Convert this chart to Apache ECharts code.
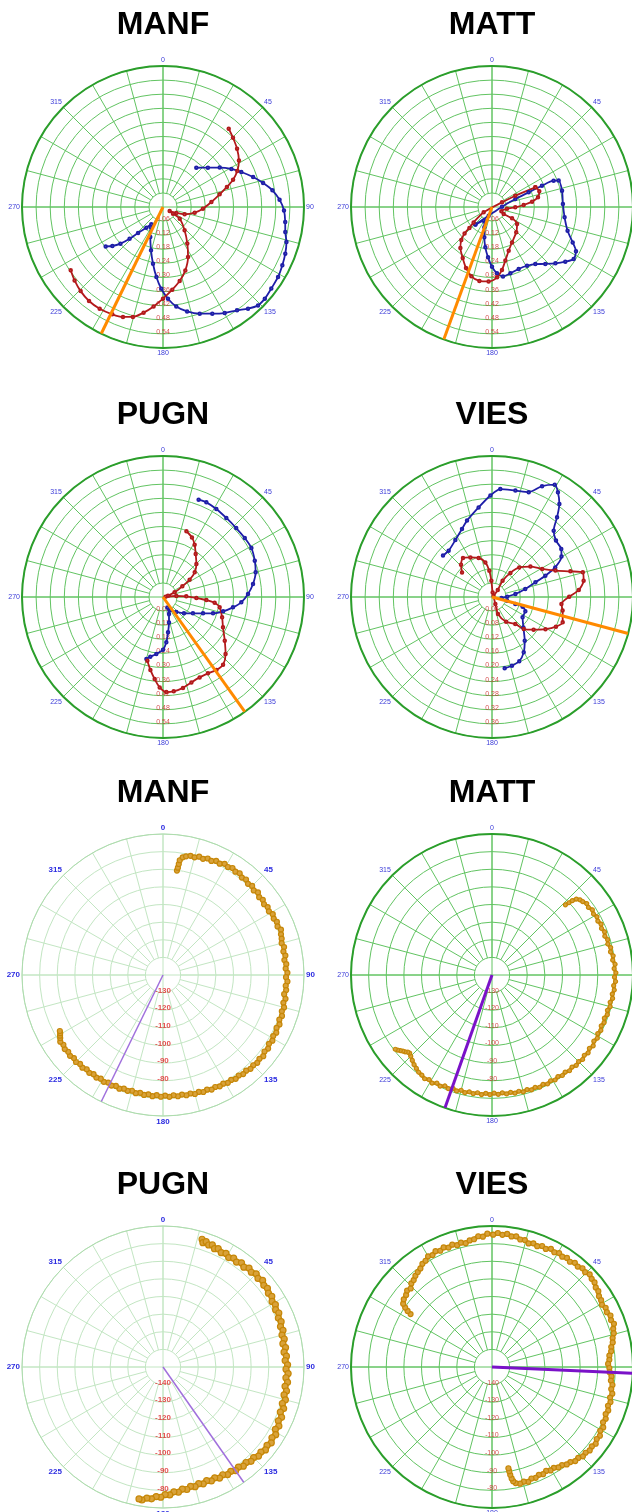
<!DOCTYPE html>
<html>
<head>
<meta charset="utf-8">
<script src="https://cdn.jsdelivr.net/npm/echarts@6/dist/echarts.min.js"></script>
<style>
  html, body { margin: 0; padding: 0; background: #fff; }
  #chart { width: 632px; height: 1512px; }
</style>
</head>
<body>
<div id="chart"></div>
<script>
// ---------- data ----------
// Station names, one per panel (top two rows: amplitude traces, bottom two rows: level scans)
const stationNames = ['MANF', 'MATT', 'PUGN', 'VIES', 'MANF', 'MATT', 'PUGN', 'VIES'];

// Compass tick labels (degrees)
const angleTicks = [0, 45, 90, 135, 180, 225, 270, 315];

// Radial tick labels for each panel
const radialLabelsManf = [0.06, 0.12, 0.18, 0.24, 0.30, 0.36, 0.42, 0.48, 0.54];
const radialLabelsMatt = [0.06, 0.12, 0.18, 0.24, 0.30, 0.36, 0.42, 0.48, 0.54];
const radialLabelsPugn = [0.06, 0.12, 0.18, 0.24, 0.30, 0.36, 0.42, 0.48, 0.54];
const radialLabelsVies = [0.04, 0.08, 0.12, 0.16, 0.20, 0.24, 0.28, 0.32, 0.36];
const levelLabelsManf = [-130, -120, -110, -100, -90, -80];
const levelLabelsMatt = [-130, -120, -110, -100, -90, -80];
const levelLabelsPugn = [-140, -130, -120, -110, -100, -90, -80];
const levelLabelsVies = [-140, -130, -120, -110, -100, -90, -80];

// Bearing indicators (degrees from north, clockwise)
const traceBearings = [206, 200, 144.5, 105];
const scanBearings = [206, 199.5, 145, 92.6];

// Amplitude traces, points are [amplitude, bearing]
const manfRed = [[0.435,40.0],[0.419,45.3],[0.401,51.8],[0.379,58.5],[0.351,64.2],[0.320,68.7],[0.285,72.6],[0.247,77.4],[0.207,84.1],[0.170,92.4],[0.137,100.1],[0.097,108.7],[0.062,114.2],[0.033,121.0],[0.051,123.7],[0.087,125.0],[0.135,137.1],[0.187,146.4],[0.238,153.4],[0.286,160.6],[0.323,167.3],[0.354,173.6],[0.390,180.0],[0.425,185.4],[0.457,190.4],[0.485,195.3],[0.498,200.0],[0.505,205.3],[0.510,211.9],[0.509,218.2],[0.501,224.4],[0.489,230.3],[0.476,235.6]];
const manfBlue = [[0.219,40.3],[0.254,48.8],[0.294,55.2],[0.333,60.9],[0.365,65.9],[0.404,71.6],[0.438,76.5],[0.471,81.3],[0.497,86.4],[0.515,91.6],[0.524,97.0],[0.531,101.5],[0.546,105.8],[0.557,110.9],[0.565,116.0],[0.573,121.3],[0.577,127.0],[0.583,132.0],[0.582,136.0],[0.564,140.1],[0.541,144.4],[0.522,149.8],[0.500,155.2],[0.480,161.0],[0.456,167.0],[0.427,172.4],[0.391,176.9],[0.348,181.2],[0.299,185.4],[0.245,190.0],[0.191,195.5],[0.139,202.9],[0.100,211.7],[0.089,214.0],[0.113,218.9],[0.153,223.9],[0.196,226.5],[0.239,229.3],[0.272,232.4],[0.296,235.5]];
const mattRed = [[0.2025,65.6],[0.110,64.1],[0.047,65.0],[0.042,237.4],[0.102,230.1],[0.131,227.2],[0.162,226.1],[0.192,222.9],[0.220,217.7],[0.250,209.9],[0.282,203.1],[0.308,196.6],[0.319,189.7],[0.317,182.6],[0.300,175.9],[0.271,171.0],[0.235,166.0],[0.199,159.1],[0.173,150.5],[0.149,136.2],[0.129,124.2],[0.098,119.5],[0.058,121.0],[0.044,114.9],[0.064,96.3],[0.099,90.8],[0.135,86.4],[0.172,82.4],[0.200,78.1],[0.212,71.7],[0.2025,65.6]];
const mattBlue = [[0.103,223.3],[0.0395,201],[0.0426,88.1],[0.105,71.1],[0.168,68.2],[0.231,66.9],[0.285,66.9],[0.305,68.4],[0.306,76.9],[0.302,87.6],[0.312,98.1],[0.337,107.4],[0.375,113.7],[0.404,117.8],[0.412,122.5],[0.389,126.7],[0.361,131.6],[0.332,136.9],[0.305,142.8],[0.291,149.2],[0.287,156.7],[0.293,164.5],[0.299,171.0],[0.283,175.7],[0.254,180],[0.215,184.5],[0.174,189.4],[0.133,194.2],[0.0925,200.7],[0.068,211.4],[0.103,223.3]];
const pugnRed = [[0.297,19.6],[0.282,25.9],[0.260,31.2],[0.230,37.2],[0.200,45.3],[0.171,52.1],[0.135,57.0],[0.094,61.1],[0.053,68.2],[0.022,75],[0.011,83],[0.057,85.7],[0.099,88.4],[0.142,91.7],[0.185,94.0],[0.221,96.3],[0.245,100.3],[0.266,109.0],[0.286,116.8],[0.322,125.3],[0.360,132.3],[0.385,138.4],[0.385,143.8],[0.377,149.5],[0.376,155.5],[0.383,161.6],[0.396,167.6],[0.404,173.5],[0.405,178.0],[0.385,182.1],[0.351,185.8],[0.315,189.8],[0.279,193.8]];
const pugnBlue = [[0.441,20.1],[0.443,24.6],[0.438,31.2],[0.431,38.7],[0.428,46.7],[0.429,54.2],[0.430,61.0],[0.420,68.4],[0.408,75.1],[0.387,81.8],[0.362,88.0],[0.334,93.9],[0.301,98.4],[0.263,103.4],[0.224,108.1],[0.184,112.2],[0.145,118.6],[0.113,127.9],[0.085,138.4],[0.064,149.5],[0.048,157.2],[0.077,160.6],[0.111,166.7],[0.152,171.9],[0.193,175.8],[0.224,180],[0.244,186.7],[0.260,192.0],[0.273,195.0]];
const viesRed = [[0.110,309.4],[0.127,316.2],[0.138,323.4],[0.128,331.4],[0.117,341.1],[0.100,349.1],[0.075,354.2],[0.046,357.7],[0.013,8.1],[0.022,154.5],[0.051,160.6],[0.081,150.4],[0.101,139.2],[0.128,135.3],[0.150,128.1],[0.177,121.0],[0.200,114.9],[0.213,109.7],[0.204,100.9],[0.198,95.8],[0.219,89.8],[0.247,85.4],[0.264,79.9],[0.267,74.8],[0.234,71.9],[0.195,67.4],[0.163,60.8],[0.139,51.6],[0.114,42.7],[0.086,37.4],[0.055,33.1],[0.026,39.0],[0.005,60]];
const viesBlue = [[0.182,310.2],[0.180,316.9],[0.192,327.2],[0.211,336.2],[0.228,341.9],[0.257,351.5],[0.288,359.1],[0.307,4.4],[0.309,12.4],[0.315,19.3],[0.345,24.3],[0.365,29.2],[0.351,32.2],[0.326,35.9],[0.292,39.2],[0.257,42.9],[0.242,48.6],[0.239,55.3],[0.228,59.8],[0.198,64.9],[0.163,68.2],[0.130,71.3],[0.097,76.5],[0.067,82.7],[0.043,88.7],[0.027,96.1],[0.044,103.7],[0.069,106.7],[0.091,107.5],[0.103,113.3],[0.104,123.5],[0.124,134.1],[0.155,143.2],[0.181,150.2],[0.198,157.0],[0.203,163.8],[0.205,169.9]];

// Level scans, points are [bearing, level]
const manfScan = [[7.6,-80.2],[7.9,-78.5],[8.1,-76.4],[8.3,-74.2],[9.5,-72.3],[11,-71.4],[13,-70.6],[15,-70.9],[17,-69.8],[19,-70.3],[21,-69.2],[23,-69.7],[25,-68.6],[27,-69.1],[29,-67.9],[31,-68.5],[33,-67.6],[35,-68.4],[37,-67.7],[39,-68.9],[41,-68.2],[43,-69.3],[45,-68.5],[47,-69.6],[49,-68.6],[51,-69.8],[53,-69.1],[55,-70.0],[57,-69.2],[59,-69.9],[61,-68.8],[63,-69.5],[65,-68.7],[67,-69.4],[69,-68.3],[71,-69.2],[73,-69.6],[75,-70.3],[77,-69.5],[79,-70.4],[81,-69.7],[83,-70.6],[85,-69.8],[87,-70.3],[89,-69.4],[91,-70.2],[93,-69.3],[95,-70.1],[97,-69.6],[99,-70.4],[101,-69.2],[103,-69.9],[105,-68.9],[107,-69.5],[109,-68.6],[111,-69.3],[113,-68.2],[115,-68.9],[117,-67.9],[119,-68.5],[121,-67.6],[123,-68.3],[125,-67.2],[127,-67.9],[129,-66.8],[131,-67.5],[133,-66.9],[135,-67.6],[137,-67.2],[139,-68.1],[141,-67.7],[143,-68.6],[145,-68.1],[147,-69.0],[149,-68.6],[151,-69.5],[153,-69.1],[155,-69.9],[157,-69.4],[159,-70.3],[161,-69.8],[163,-70.6],[165,-70.1],[167,-71.0],[169,-70.5],[171,-71.3],[173,-70.7],[175,-71.5],[177,-70.8],[179,-71.6],[181,-70.9],[183,-71.7],[185,-71.0],[187,-71.8],[189,-71.1],[191,-71.9],[193,-71.2],[195,-72.0],[197,-71.3],[199,-71.8],[201,-70.9],[203,-71.6],[205,-70.8],[207,-71.5],[209,-70.7],[211,-71.4],[213,-70.6],[215,-71.3],[217,-70.5],[219,-71.2],[221,-70.3],[223,-71.0],[225,-70.2],[227,-70.9],[229,-70.1],[231,-70.8],[233,-70.2],[235,-71.0],[237,-70.5],[238.5,-71.6],[239.5,-72.2],[240.5,-73.0],[241.5,-73.4]];
const mattScan = [[46.3,-82.4],[46.8,-80.1],[47.2,-77.9],[48.0,-75.6],[49.5,-74.3],[51,-73.8],[53,-72.7],[55,-73.2],[57,-72.1],[59,-72.8],[61,-71.9],[63,-72.6],[65,-71.7],[67,-72.5],[69,-71.6],[71,-72.3],[73,-71.4],[75,-72.0],[77,-70.9],[79,-71.5],[81,-70.4],[83,-71.0],[85,-69.9],[87,-70.6],[89,-69.7],[91,-70.5],[93,-69.8],[95,-70.7],[97,-70.1],[99,-70.9],[101,-70.3],[103,-71.2],[105,-70.6],[107,-71.5],[109,-70.8],[111,-71.7],[113,-70.9],[115,-71.6],[117,-70.7],[119,-71.4],[121,-70.3],[123,-71.1],[125,-69.9],[127,-70.8],[129,-69.8],[131,-70.6],[133,-69.7],[135,-70.5],[137,-69.9],[139,-70.8],[141,-70.1],[143,-71.0],[145,-70.4],[147,-71.3],[149,-70.5],[151,-71.4],[153,-70.6],[155,-71.5],[157,-70.8],[159,-71.7],[161,-71.1],[163,-72.0],[165,-71.4],[167,-72.3],[169,-71.7],[171,-72.6],[173,-72.0],[175,-72.9],[177,-72.2],[179,-73.0],[181,-72.1],[183,-72.8],[185,-71.9],[187,-72.7],[189,-71.8],[191,-72.5],[193,-71.5],[195,-72.3],[197,-71.2],[199,-72.0],[201,-70.9],[203,-71.6],[205,-70.4],[207,-71.1],[209,-69.9],[211,-70.7],[213,-69.8],[215,-70.6],[217,-70.9],[219,-71.8],[221,-72.6],[223,-73.7],[225,-74.8],[226.5,-75.6],[227.5,-75.2],[228.5,-74.2],[229.5,-73.5],[230.5,-72.6],[231.5,-71.6],[232.5,-70.8]];
const pugnScan = [[17.0,-74.2],[17.8,-75.9],[19,-74.8],[20.5,-76.1],[22,-75.3],[23.5,-76.8],[25,-75.9],[27,-77.2],[29,-76.3],[31,-77.6],[33,-76.4],[35,-77.3],[37,-76.0],[39,-77.1],[41,-75.6],[43,-76.5],[45,-75.2],[47,-76.3],[49,-75.1],[51,-76.4],[53,-75.8],[55,-77.0],[57,-76.4],[59,-77.8],[61,-77.1],[63,-78.3],[65,-77.5],[67,-78.9],[69,-78.2],[71,-79.5],[73,-78.8],[75,-80.1],[77,-79.4],[79,-80.7],[81,-79.6],[83,-80.8],[85,-79.7],[87,-80.6],[89,-79.3],[91,-80.2],[93,-78.9],[95,-80.0],[97,-78.8],[99,-79.9],[101,-78.6],[103,-79.5],[105,-78.1],[107,-79.2],[109,-77.6],[111,-78.7],[113,-76.9],[115,-77.8],[117,-76.2],[119,-77.1],[121,-75.4],[123,-76.3],[125,-75.0],[127,-76.1],[129,-75.2],[131,-76.4],[133,-75.9],[135,-77.3],[137,-76.8],[139,-78.2],[141,-77.6],[143,-78.9],[145,-78.2],[147,-79.4],[149,-78.8],[151,-80.1],[153,-79.3],[155,-80.6],[157,-79.8],[159,-80.9],[161,-79.9],[163,-80.8],[165,-79.7],[167,-80.5],[169,-79.2],[171,-79.9],[173,-78.4],[175,-78.9],[177,-77.3],[179,-77.6],[181,-76.1],[183,-76.4],[185,-74.9],[187,-75.1],[189,-73.6],[190.3,-73.9]];
const viesScan = [[303.0,-94.9],[303.6,-92.5],[304.4,-90.3],[305.5,-88.1],[307.5,-86.9],[310,-86.4],[312,-85.2],[314,-85.9],[316,-84.1],[318,-83.6],[320,-82.4],[322,-81.6],[324,-80.9],[326,-79.4],[328,-78.9],[330,-77.5],[332,-78.1],[334,-76.9],[336,-77.8],[338,-76.8],[340,-77.9],[342,-77.0],[344,-78.1],[346,-77.3],[348,-78.2],[350,-77.1],[352,-76.8],[354,-75.4],[356,-75.9],[358,-74.3],[0.5,-74.9],[2.5,-73.9],[4.5,-74.8],[6.5,-74.0],[8.5,-75.1],[10.5,-74.6],[12.5,-75.9],[14.5,-75.6],[16.5,-76.9],[18.5,-76.0],[20.5,-76.8],[22.5,-75.7],[24.5,-76.4],[26.5,-75.1],[28.5,-75.9],[30.5,-75.0],[32.5,-75.8],[34.5,-74.9],[36.5,-75.7],[38.5,-74.5],[40.5,-75.1],[42.5,-74.0],[44.5,-74.6],[46.5,-73.6],[48.5,-74.5],[50.5,-74.6],[52.5,-75.8],[54.5,-75.9],[56.5,-77.2],[58.5,-77.4],[60.5,-78.3],[62.5,-77.3],[64.5,-77.8],[66.5,-76.7],[68.5,-77.4],[70.5,-76.6],[72.5,-77.9],[74.5,-78.3],[76.5,-79.6],[78.5,-80.1],[80.5,-81.4],[82.5,-81.8],[84.5,-83.1],[86.5,-83.3],[88.5,-84.1],[90.5,-83.4],[92.5,-83.2],[94.5,-82.0],[96.5,-82.1],[98.5,-80.9],[100.5,-81.2],[102.5,-80.1],[104.5,-80.8],[106.5,-79.9],[108.5,-80.6],[110.5,-79.6],[112.5,-80.2],[114.5,-79.1],[116.5,-79.6],[118.5,-78.2],[120.5,-78.7],[122.5,-77.4],[124.5,-77.9],[126.5,-76.8],[128.5,-77.6],[130.5,-77.1],[132.5,-78.0],[134.5,-77.7],[136.5,-78.9],[138.5,-78.7],[140.5,-80.1],[142.5,-80.3],[144.5,-81.6],[146.5,-81.7],[148.5,-82.9],[150.5,-82.6],[152.5,-83.5],[154.5,-82.6],[156.5,-83.3],[158.5,-82.4],[160.5,-82.9],[162.5,-81.7],[164.5,-82.5],[166.5,-81.9],[168.5,-82.8],[169.5,-84.1],[170.0,-85.8],[170.4,-88.0],[170.6,-90.1],[170.8,-91.8]];

// ---------- styles ----------
const RED = '#b3191b', BLUE = '#1e1ea8', ORANGE = '#ff8a00', GOLD = '#c68708', GOLD_LIGHT = '#d9a23a';
const gridDark = { grid: '#62c462', outer: '#2b9e2b', outerWidth: 2 };
const gridLight = { grid: '#c3e6c3', outer: '#aedcae', outerWidth: 1 };
const labelsPlain = { angleColor: '#3a3ad8', radialColor: '#cc2424', size: 7, weight: 'normal' };
const labelsBold = { angleColor: '#2b2be0', radialColor: '#e02828', size: 8, weight: 'bold' };
const FONT = '"Liberation Sans", Arial, sans-serif';

const R = 141;
const colX = [163, 492];
const rowY = [207, 597, 975, 1367];

const panels = [
  { col: 0, row: 0, min: 0, max: 0.6, step: 0.06, grid: gridDark, lab: labelsPlain, ticks: radialLabelsManf, fmt: v => v.toFixed(2),
    traces: [manfBlue, manfRed], bearing: traceBearings[0], bearingColor: ORANGE, bearingWidth: 3 },
  { col: 1, row: 0, min: 0, max: 0.6, step: 0.06, grid: gridDark, lab: labelsPlain, ticks: radialLabelsMatt, fmt: v => v.toFixed(2),
    traces: [mattBlue, mattRed], bearing: traceBearings[1], bearingColor: ORANGE, bearingWidth: 3 },
  { col: 0, row: 1, min: 0, max: 0.6, step: 0.06, grid: gridDark, lab: labelsPlain, ticks: radialLabelsPugn, fmt: v => v.toFixed(2),
    traces: [pugnBlue, pugnRed], bearing: traceBearings[2], bearingColor: ORANGE, bearingWidth: 3 },
  { col: 1, row: 1, min: 0, max: 0.4, step: 0.04, grid: gridDark, lab: labelsPlain, ticks: radialLabelsVies, fmt: v => v.toFixed(2),
    traces: [viesBlue, viesRed], bearing: traceBearings[3], bearingColor: ORANGE, bearingWidth: 3 },
  { col: 0, row: 2, min: -140, max: -60, step: 10, grid: gridLight, lab: labelsBold, ticks: levelLabelsManf, fmt: v => String(v),
    scan: manfScan, scanSize: 5, scanWidth: 4, bearing: scanBearings[0], bearingColor: '#a070dc', bearingWidth: 1.5 },
  { col: 1, row: 2, min: -140, max: -60, step: 10, grid: gridDark, lab: labelsPlain, ticks: levelLabelsMatt, fmt: v => String(v),
    scan: mattScan, scanSize: 4, scanWidth: 3.5, bearing: scanBearings[1], bearingColor: '#7a12c8', bearingWidth: 3 },
  { col: 0, row: 3, min: -150, max: -70, step: 10, grid: gridLight, lab: labelsBold, ticks: levelLabelsPugn, fmt: v => String(v),
    scan: pugnScan, scanSize: 6, scanWidth: 5.5, bearing: scanBearings[2], bearingColor: '#a070dc', bearingWidth: 1.5 },
  { col: 1, row: 3, min: -150, max: -70, step: 10, grid: gridDark, lab: labelsPlain, ticks: levelLabelsVies, fmt: v => String(v),
    scan: viesScan, scanSize: 5, scanWidth: 4, bearing: scanBearings[3], bearingColor: '#7a12c8', bearingWidth: 3 }
];

// ---------- option ----------
const polar = [], angleAxis = [], radiusAxis = [], series = [], graphic = [];

panels.forEach((p, i) => {
  const cx = colX[p.col], cy = rowY[p.row];
  const rings = Math.round((p.max - p.min) / p.step);
  const inner = R / rings;

  // main polar: rings, cross lines, outer circle and all marks
  const main = polar.length;
  polar.push({ center: [cx, cy], radius: R });
  angleAxis.push({
    polarIndex: main, type: 'value', min: 0, max: 360, interval: 90,
    startAngle: 90, clockwise: true,
    axisLine: { show: true, lineStyle: { color: p.grid.outer, width: p.grid.outerWidth } },
    axisTick: { show: false }, axisLabel: { show: false },
    splitLine: { show: true, lineStyle: { color: p.grid.grid, width: 1 } }
  });
  radiusAxis.push({
    polarIndex: main, type: 'value', min: p.min, max: p.max, interval: p.step,
    axisLine: { show: false }, axisTick: { show: false }, axisLabel: { show: false },
    splitLine: { show: true, lineStyle: { color: p.grid.grid, width: 1 } }
  });

  // annulus polar: 15-degree spokes outside the first ring, compass labels
  const ann = polar.length;
  polar.push({ center: [cx, cy], radius: [inner, R] });
  angleAxis.push({
    polarIndex: ann, type: 'value', min: 0, max: 360, interval: 15,
    startAngle: 90, clockwise: true,
    axisLine: { show: false }, axisTick: { show: false },
    axisLabel: {
      show: true, margin: 2, color: p.lab.angleColor, fontSize: p.lab.size,
      fontWeight: p.lab.weight, fontFamily: FONT,
      formatter: v => (angleTicks.indexOf(v) >= 0 ? String(v) : '')
    },
    splitLine: { show: true, lineStyle: { color: p.grid.grid, width: 1, opacity: 1 } }
  });
  radiusAxis.push({ polarIndex: ann, type: 'value', min: 0, max: 1, show: false });

  // radial tick labels along the 180-degree spoke
  series.push({
    type: 'scatter', coordinateSystem: 'polar', polarIndex: main, z: 2,
    symbolSize: 1, itemStyle: { color: 'rgba(0,0,0,0)' }, silent: true,
    data: p.ticks.map(v => [v, 180]),
    label: {
      show: true, position: 'inside', offset: [0, -2],
      color: p.lab.radialColor, fontSize: p.lab.size, fontWeight: p.lab.weight, fontFamily: FONT,
      formatter: prm => p.fmt(prm.value[0])
    }
  });

  if (p.traces) {
    [BLUE, RED].forEach((col, k) => {
      series.push({
        type: 'line', coordinateSystem: 'polar', polarIndex: main, z: 3,
        data: p.traces[k], smooth: 0.25,
        symbol: 'emptyCircle', symbolSize: 2.5, showSymbol: true,
        lineStyle: { color: col, width: 1.8 },
        itemStyle: { color: col, borderWidth: 0.8 }, silent: true
      });
    });
  }
  if (p.scan) {
    series.push({
      type: 'line', coordinateSystem: 'polar', polarIndex: main, z: 3,
      data: p.scan.map(d => [d[1], d[0]]),
      symbol: 'circle', symbolSize: p.scanSize, showSymbol: true,
      lineStyle: { color: GOLD, width: p.scanWidth },
      itemStyle: { color: GOLD_LIGHT, borderColor: GOLD, borderWidth: 1.2 }, silent: true
    });
  }

  // bearing indicator from centre to rim
  series.push({
    type: 'line', coordinateSystem: 'polar', polarIndex: main, z: 4,
    data: [[p.min, p.bearing], [p.max, p.bearing]],
    symbol: 'none', lineStyle: { color: p.bearingColor, width: p.bearingWidth }, silent: true
  });

  // panel title
  graphic.push({
    type: 'text', x: cx, y: cy - 182,
    style: {
      text: stationNames[i], fill: '#000', align: 'center', verticalAlign: 'middle',
      font: 'bold 32px ' + FONT
    }
  });
});

const chart = echarts.init(document.getElementById('chart'), null, { renderer: 'canvas' });
chart.setOption({
  animation: false,
  backgroundColor: '#fff',
  polar, angleAxis, radiusAxis, series, graphic
});
</script>
</body>
</html>
